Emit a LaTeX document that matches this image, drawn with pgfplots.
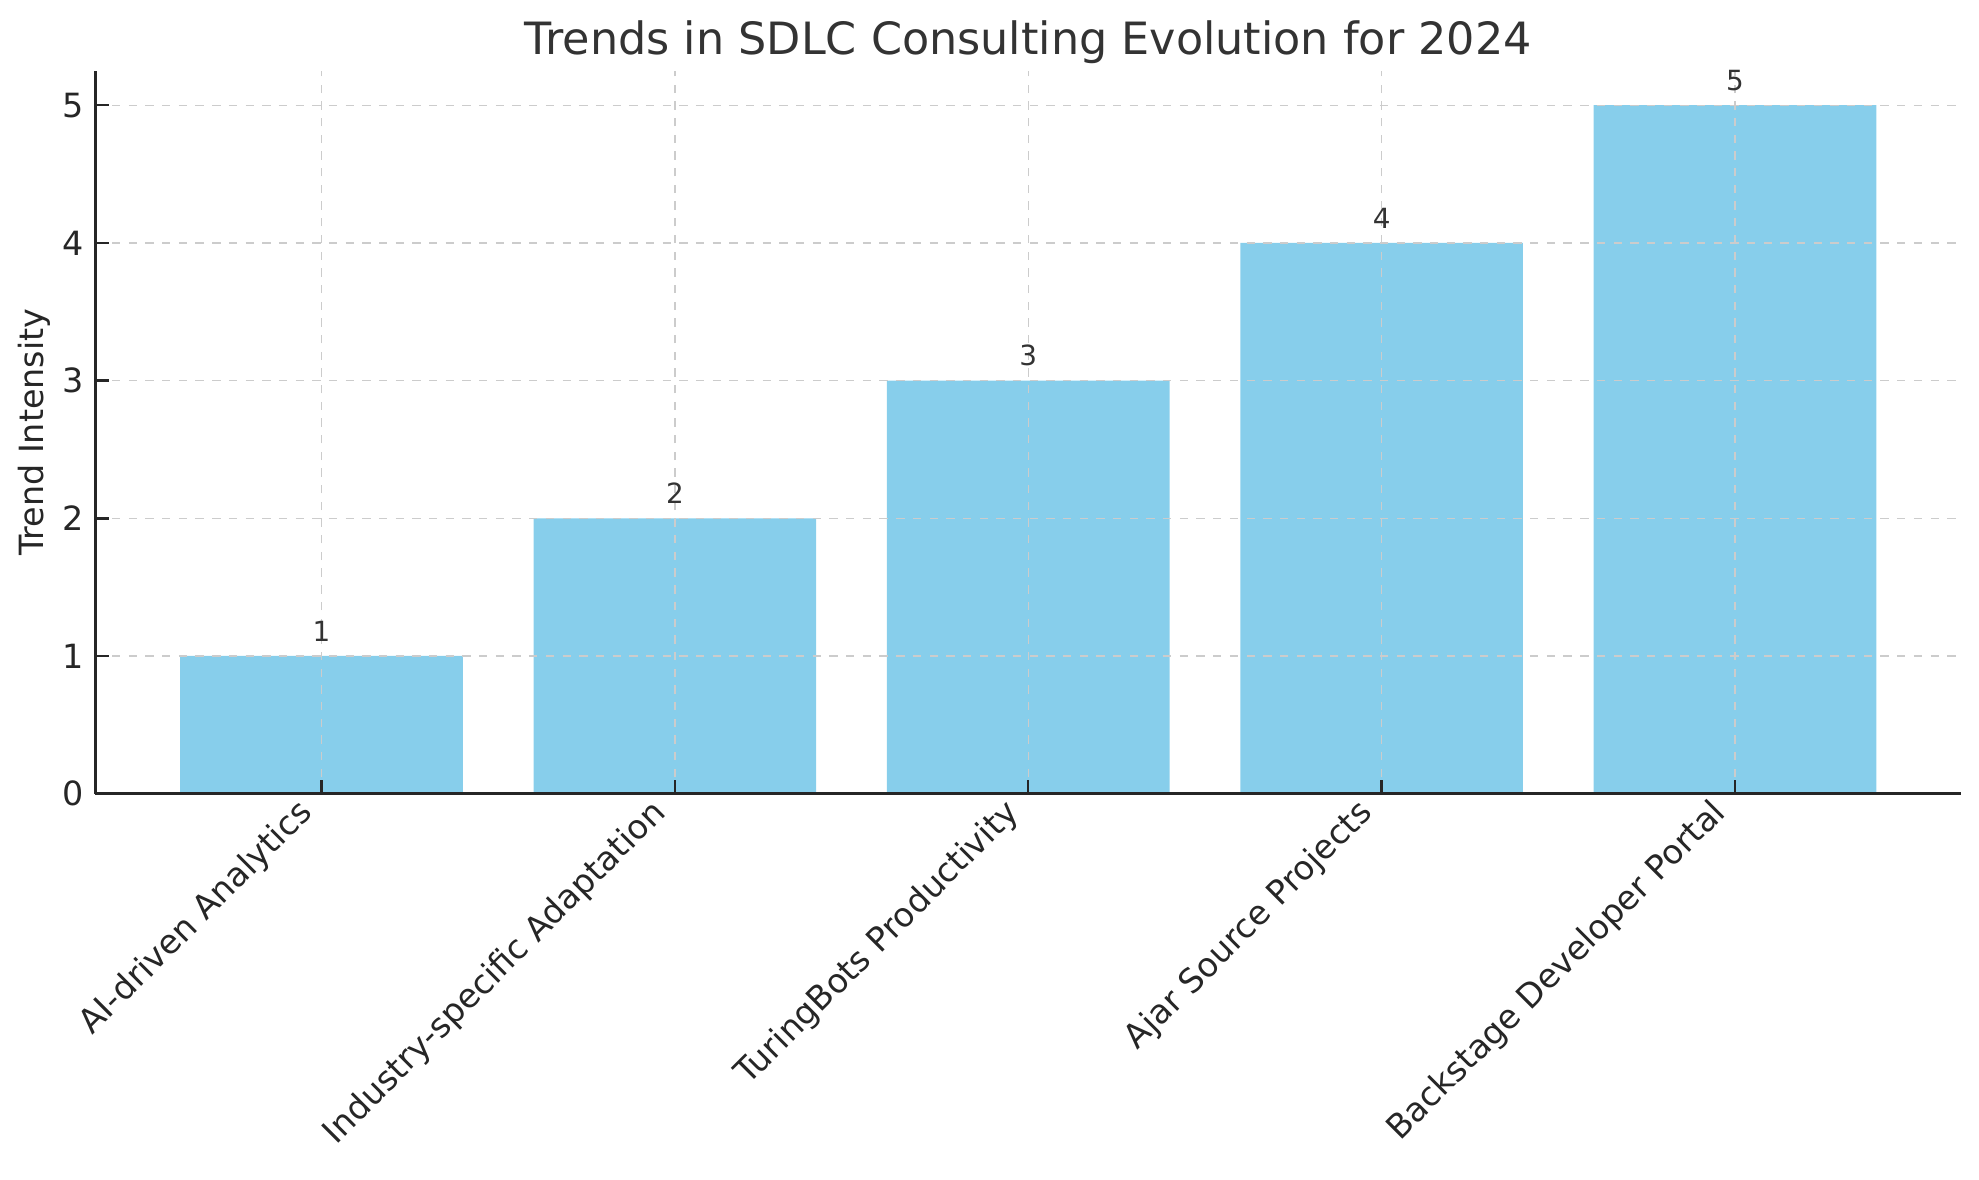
\documentclass[border=0pt]{standalone}
\usepackage{pgfplots}
\pgfplotsset{compat=1.18}
\usepackage{fontspec}
\setmainfont{DejaVu Sans}
\definecolor{skyblue}{HTML}{87CEEB}
\definecolor{titlegray}{HTML}{333333}
\definecolor{txt}{HTML}{262626}
\definecolor{gridc}{HTML}{CCCCCC}
\pgfplotstableread{
x y
0 1
1 2
2 3
3 4
4 5
}\datatable
\begin{document}
\begin{tikzpicture}
\begin{axis}[
  scale only axis,
  width=671pt, height=260pt,
  xmin=-0.64, xmax=4.64,
  ymin=0, ymax=5.25,
  axis x line*=bottom, axis y line*=left,
  axis line style={line width=0.9pt, txt},
  axis on top,
  ybar, bar width=0.8,
  xtick=data,
  xticklabels={AI-driven Analytics, Industry-specific Adaptation, TuringBots Productivity, Ajar Source Projects, Backstage Developer Portal},
  ytick={0,1,2,3,4,5},
  tick align=inside,
  major tick length=5pt,
  tick style={line width=0.9pt, txt},
  grid=major,
  major grid style={dashed, gridc, line width=0.5pt},
  x tick label style={xshift=-5pt, yshift=-5pt, rotate=45, anchor=east, font=\fontsize{12}{14}\selectfont, text=txt, inner sep=0pt},
  y tick label style={font=\fontsize{12}{14}\selectfont, text=txt, xshift=-0.5pt},
  /pgf/number format/assume math mode=true,
  ylabel={Trend Intensity},
  ylabel style={at={(axis description cs:0,0.5)}, anchor=south, yshift=16pt, inner sep=0pt, font=\fontsize{12}{14}\selectfont, text=txt},
  every axis title shift=0pt,
  title={Trends in SDLC Consulting Evolution for 2024},
  title style={at={(0.5,1)}, anchor=base, yshift=5.8pt, inner sep=0pt, font=\fontsize{16}{19}\selectfont, text=titlegray},
  nodes near coords,
  nodes near coords style={font=\fontsize{10}{12}\selectfont, text=titlegray, yshift=1.7pt},
]
\addplot[fill=skyblue, draw=none] table[x=x, y=y] {\datatable};
\end{axis}
\path (current bounding box.south west) ++(-6.5pt,-10.5pt) (current bounding box.north east) ++(6pt,7.5pt);
\end{tikzpicture}
\end{document}
